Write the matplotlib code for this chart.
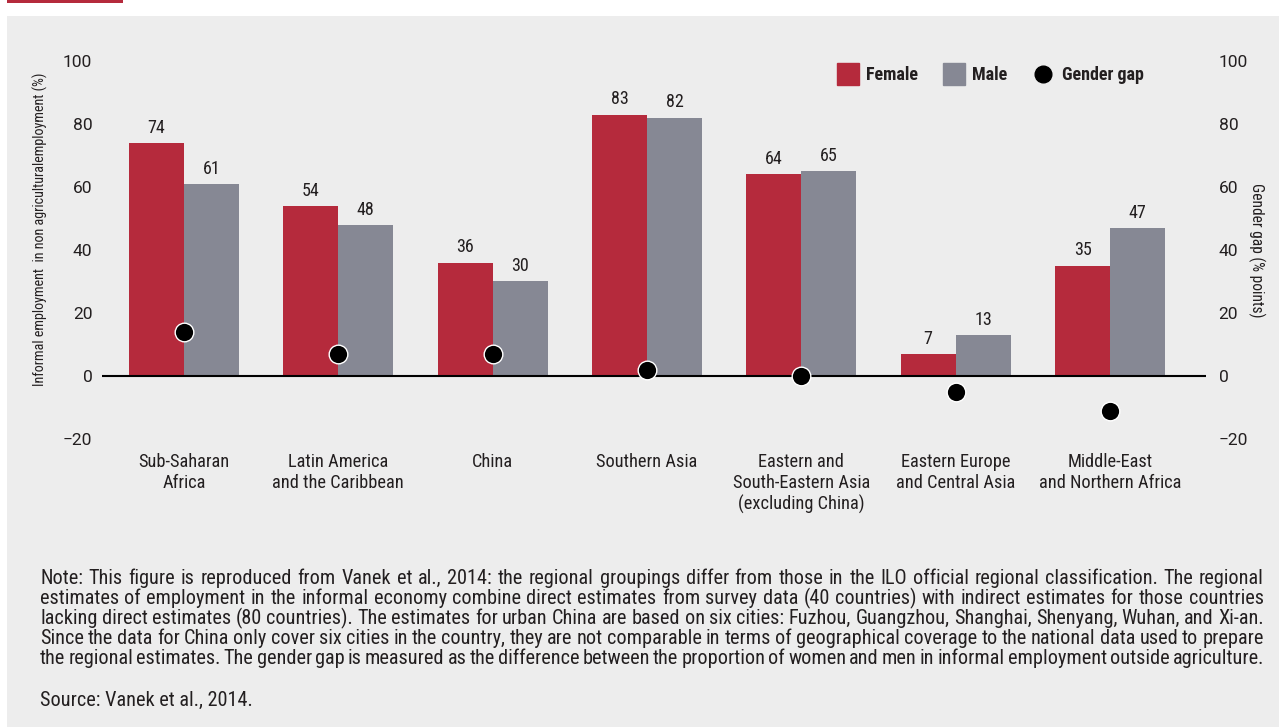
import matplotlib
matplotlib.use("Agg")
import matplotlib.pyplot as plt
from matplotlib.patches import Rectangle
from matplotlib.lines import Line2D
from matplotlib import font_manager as fm
import numpy as np

categories = ["Sub-Saharan\nAfrica", "Latin America\nand the Caribbean", "China",
              "Southern Asia", "Eastern and\nSouth-Eastern Asia\n(excluding China)",
              "Eastern Europe\nand Central Asia", "Middle-East\nand Northern Africa"]
female = [74, 54, 36, 83, 64, 7, 35]
male = [61, 48, 30, 82, 65, 13, 47]
gender_gap = [14, 7, 7, 2, 0, -5, -11]
yticks = [-20, 0, 20, 40, 60, 80, 100]
ytick_labels = ["\u221220", "0", "20", "40", "60", "80", "100"]

note_lines = [
    "Note: This figure is reproduced from Vanek et al., 2014: the regional groupings differ from those in the ILO official regional classification. The regional",
    "estimates of employment in the informal economy combine direct estimates from survey data (40 countries) with indirect estimates for those countries",
    "lacking direct estimates (80 countries). The estimates for urban China are based on six cities: Fuzhou, Guangzhou, Shanghai, Shenyang, Wuhan, and Xi-an.",
    "Since the data for China only cover six cities in the country, they are not comparable in terms of geographical coverage to the national data used to prepare",
    "the regional estimates. The gender gap is measured as the difference between the proportion of women and men in informal employment outside agriculture.",
]
source_line = "Source: Vanek et al., 2014."

RED = "#B52A3C"
GRAY = "#868894"
BG = "#EDEDED"
TXT = "#231F20"

available = set(f.name for f in fm.fontManager.ttflist)

def pick(cands):
    for c in cands:
        if c in available:
            return [c, "DejaVu Sans"]
    return ["DejaVu Sans"]

COND = pick(["Roboto Condensed", "Archivo Narrow", "Barlow Semi Condensed", "Asap Condensed"])
REG = pick(["Roboto", "Liberation Sans"])

W, H = 1279, 727
fig = plt.figure(figsize=(W / 100, H / 100), dpi=100)
fig.patch.set_facecolor("white")

def fx(px):
    return px / W

def fy(py):
    return 1 - py / H

fig.add_artist(Rectangle((fx(7), 0), 1 - fx(7), fy(16), transform=fig.transFigure,
                         facecolor=BG, edgecolor="none", zorder=0))
fig.add_artist(Rectangle((fx(7), fy(3)), fx(116), fy(0) - fy(3), transform=fig.transFigure,
                         facecolor=RED, edgecolor="none", zorder=0))

AX_L, AX_R, AX_T, AX_B = 102, 1206, 61, 439
ax = fig.add_axes([fx(AX_L), fy(AX_B), fx(AX_R) - fx(AX_L), fy(AX_T) - fy(AX_B)])
ax.set_facecolor("none")
x = np.arange(len(categories))
bw = 0.356
ax.bar(x - bw / 2, female, bw, color=RED, zorder=2)
ax.bar(x + bw / 2, male, bw, color=GRAY, zorder=2)
ax.axhline(0, color="black", lw=1.5, zorder=3)
ax.scatter(x, gender_gap, s=180, color="black", edgecolor="white", linewidth=1.0, zorder=4)

for xs, vals in ((x - bw / 2, female), (x + bw / 2, male)):
    for xi, v in zip(xs, vals):
        ax.annotate(str(v), (xi, v), xytext=(0, 4.5), textcoords="offset points",
                    ha="center", va="bottom", fontsize=13, family=COND, color=TXT)

ax.set_xlim(-0.531, 6.622)
ax.set_ylim(-20, 100)
ax.set_yticks(yticks)
ax.set_yticklabels(ytick_labels, family=REG, fontsize=12.5, color=TXT)
ax.tick_params(axis="y", length=0, pad=7)
ax.set_xticks(x)
ax.set_xticklabels(categories, family=COND, fontsize=13.2, color=TXT, linespacing=1.22, va="top")
ax.tick_params(axis="x", length=0, pad=10)
for s in ax.spines.values():
    s.set_visible(False)
ax.set_ylabel("Informal employment  in non agriculturalemployment (%)", family=COND,
              fontsize=10.2, color=TXT)
axw = fx(AX_R) - fx(AX_L)
axh = fy(AX_T) - fy(AX_B)
ax.yaxis.set_label_coords((fx(48) - fx(AX_L)) / axw, (fy(229) - fy(AX_B)) / axh)

ax2 = ax.twinx()
ax2.set_ylim(-20, 100)
ax2.set_yticks(yticks)
ax2.set_yticklabels(ytick_labels, family=REG, fontsize=12.5, color=TXT)
ax2.tick_params(axis="y", length=0, pad=9)
for s in ax2.spines.values():
    s.set_visible(False)
ax2.set_ylabel("Gender gap (% points)", family=COND, fontsize=11.2, color=TXT, rotation=270,
               va="center")
ax2.yaxis.set_label_coords((fx(1257) - fx(AX_L)) / axw, (fy(250) - fy(AX_B)) / axh)

handles = [Line2D([], [], marker="s", ls="none", markersize=16, color=RED),
           Line2D([], [], marker="s", ls="none", markersize=16, color=GRAY),
           Line2D([], [], marker="o", ls="none", markersize=12, color="black")]
fig.legend(handles, ["Female", "Male", "Gender gap"], loc="center left",
           bbox_to_anchor=(fx(828), fy(75)), ncol=3, frameon=False,
           prop={"family": COND, "weight": "bold", "size": 13}, labelcolor=TXT,
           handletextpad=0.4, columnspacing=1.4, handlelength=1.2, borderpad=0)

fig.canvas.draw()
renderer = fig.canvas.get_renderer()
left_px, right_px = 40, 1264
note_y = [578, 598, 618, 639, 659]

def layout_note(fs):
    all_texts = []
    min_gap = 1e9
    for line, yy in zip(note_lines, note_y):
        words = line.split(" ")
        texts = [fig.text(0, fy(yy), w, family=COND, fontsize=fs, color=TXT, va="center")
                 for w in words]
        widths = [t.get_window_extent(renderer).width for t in texts]
        gap = (right_px - left_px - sum(widths)) / (len(words) - 1)
        min_gap = min(min_gap, gap)
        pos = left_px
        for t, wd in zip(texts, widths):
            t.set_x(fx(pos))
            pos += wd + gap
        all_texts.extend(texts)
    return all_texts, min_gap

NOTE_FS = 14.6
while True:
    texts, mg = layout_note(NOTE_FS)
    if mg >= 2.5 or NOTE_FS < 10:
        break
    for t in texts:
        t.remove()
    NOTE_FS -= 0.2
fig.text(fx(40), fy(700), source_line, family=COND, fontsize=NOTE_FS, color=TXT, va="center")

fig.savefig("out.png", dpi=100, facecolor=fig.get_facecolor())
